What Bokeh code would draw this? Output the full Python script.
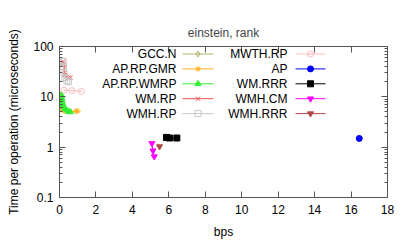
from bokeh.plotting import figure
from bokeh.models import (LinearAxis, LogAxis, FixedTicker, Range1d, Label)
from bokeh.embed import file_html
from bokeh.resources import INLINE
import math

# ---- data ----
gcc_n_x = [0.10, 0.12, 0.15]
gcc_n_y = [9.0, 7.0, 6.0]
ap_rp_gmr_x = [0.06, 0.07, 0.08, 0.10, 0.15, 0.30, 0.50, 0.90, 1.00]
ap_rp_gmr_y = [9.0, 7.5, 6.5, 6.0, 5.5, 5.2, 5.1, 5.2, 5.2]
ap_rp_wmrp_x = [0.10, 0.12, 0.14, 0.16, 0.20, 0.25, 0.30, 0.40, 0.50, 0.60]
ap_rp_wmrp_y = [11.0, 10.0, 9.0, 8.0, 7.0, 6.3, 5.8, 5.4, 5.1, 5.0]
wm_rp_x = [0.20, 0.22, 0.25, 0.28, 0.30, 0.40, 0.50, 0.60]
wm_rp_y = [50.0, 45.0, 38.0, 30.0, 27.0, 25.0, 24.0, 24.0]
wmh_rp_x = [0.20, 0.22, 0.25, 0.30, 0.40, 0.50]
wmh_rp_y = [50.0, 40.0, 30.0, 24.0, 21.0, 20.0]
mwth_rp_x = [0.25, 0.68, 1.20]
mwth_rp_y = [13.5, 13.3, 12.8]
ap_x = [16.45]
ap_y = [1.49]
wm_rrr_x = [5.87, 6.04, 6.44]
wm_rrr_y = [1.56, 1.52, 1.52]
wmh_cm_x = [5.07, 5.13, 5.20]
wmh_cm_y = [1.19, 0.85, 0.65]
wmh_rrr_x = [5.49]
wmh_rrr_y = [1.03]

x_ticks = [0, 2, 4, 6, 8, 10, 12, 14, 16, 18]
y_ticks = [0.1, 1, 10, 100]
y_tick_labels = ["0.1", "1", "10", "100"]
y_minor = [0.2, 0.3, 0.4, 0.5, 0.6, 0.7, 0.8, 0.9,
           2, 3, 4, 5, 6, 7, 8, 9, 20, 30, 40, 50, 60, 70, 80, 90]

series = [
    # name, xs, ys, color, marker, fill
    ("GCC.N", gcc_n_x, gcc_n_y, "#b4b46c", "diamond_dot", False),
    ("AP.RP.GMR", ap_rp_gmr_x, ap_rp_gmr_y, "#ffb020", "asterisk", False),
    ("AP.RP.WMRP", ap_rp_wmrp_x, ap_rp_wmrp_y, "#33ee33", "triangle", True),
    ("WM.RP", wm_rp_x, wm_rp_y, "#f05050", "x", False),
    ("WMH.RP", wmh_rp_x, wmh_rp_y, "#c8c8c8", "square", False),
    ("MWTH.RP", mwth_rp_x, mwth_rp_y, "#ffbcbc", "circle_dot", False),
    ("AP", ap_x, ap_y, "#0000ff", "circle", True),
    ("WM.RRR", wm_rrr_x, wm_rrr_y, "#000000", "square", True),
    ("WMH.CM", wmh_cm_x, wmh_cm_y, "#ff00ff", "inverted_triangle", True),
    ("WMH.RRR", wmh_rrr_x, wmh_rrr_y, "#b04848", "inverted_triangle", True),
]

FONT = "Liberation Sans"
W, H = 407, 244
BL, BR, BT, BB = 59, 20, 46, 47
FW = W - BL - BR
FH = H - BT - BB
X0, X1 = 0, 18
Y0, Y1 = 0.1, 100

p = figure(width=W, height=H, output_backend="svg", toolbar_location=None,
           x_range=Range1d(X0, X1), y_range=Range1d(Y0, Y1), y_axis_type="log",
           min_border_left=BL, min_border_right=BR, min_border_top=BT,
           min_border_bottom=BB, x_axis_location=None, y_axis_location=None)
p.grid.visible = False
p.outline_line_color = "#555555"
p.background_fill_color = "white"
p.border_fill_color = "white"

AXC = "#555555"

def style_axis(ax, minor):
    ax.axis_line_color = AXC
    ax.major_tick_line_color = AXC
    ax.minor_tick_line_color = AXC if minor else None
    ax.major_tick_in = 6
    ax.major_tick_out = 0
    ax.minor_tick_in = 3
    ax.minor_tick_out = 0
    ax.major_label_text_font = FONT
    ax.major_label_text_font_size = "12px"
    ax.major_label_text_color = "black"
    ax.axis_label_text_font = FONT
    ax.axis_label_text_font_size = "12px"
    ax.axis_label_text_font_style = "normal"
    ax.axis_label_text_color = "black"

xb = LinearAxis(ticker=FixedTicker(ticks=x_ticks), axis_label="bps")
style_axis(xb, False)
xb.major_label_standoff = 7
xb.axis_label_standoff = 8
p.add_layout(xb, "below")

xt = LinearAxis(ticker=FixedTicker(ticks=x_ticks))
style_axis(xt, False)
xt.major_label_overrides = {t: "" for t in x_ticks}
xt.major_label_standoff = 0
p.add_layout(xt, "above")

yl = LogAxis(ticker=FixedTicker(ticks=y_ticks, minor_ticks=y_minor),
             axis_label="Time per operation (microseconds)")
style_axis(yl, True)
yl.major_label_overrides = dict(zip(y_ticks, y_tick_labels))
yl.major_label_standoff = 6
yl.axis_label_standoff = 9
p.add_layout(yl, "left")

yr = LogAxis(ticker=FixedTicker(ticks=y_ticks, minor_ticks=y_minor))
style_axis(yr, True)
yr.major_label_overrides = {t: "" for t in y_ticks}
yr.major_label_standoff = 0
p.add_layout(yr, "right")

p.title.text = "einstein, rank"
p.title.align = "center"
p.title.text_font = FONT
p.title.text_font_size = "12px"
p.title.text_font_style = "normal"
p.title.standoff = 13

def draw_marker(xs, ys, color, marker, fill):
    p.scatter(x=xs, y=ys, marker=marker, size=6, line_color=color, line_width=1,
              fill_color=color if fill else None)

for name, xs, ys, color, marker, fill in series:
    p.line(xs, ys, line_color=color, line_width=1)
    draw_marker(xs, ys, color, marker, fill)

# ---- legend (gnuplot style; positions in pixels from the frame's top-left) ----
def dx(px):
    return X0 + (X1 - X0) * px / FW

def dy(py):
    return 10 ** (math.log10(Y1) - (math.log10(Y1) - math.log10(Y0)) * py / FH)

ROW0, ROWSTEP = 7.5, 14.9
cols = [(117, 123, 154), (228, 236, 266)]  # text right, line start, line end
for i, (name, xs, ys, color, marker, fill) in enumerate(series):
    c = cols[i // 5]
    r = i % 5
    py = ROW0 + r * ROWSTEP
    p.add_layout(Label(x=dx(c[0]), y=dy(py), text=name, text_align="right",
                       text_baseline="middle", text_font=FONT,
                       text_font_size="12px", text_color="black"))
    p.line([dx(c[1]), dx(c[2])], [dy(py), dy(py)], line_color=color, line_width=1)
    draw_marker([dx((c[1] + c[2]) / 2)], [dy(py)], color, marker, fill)

open("out.html", "w").write(file_html(p, INLINE))
